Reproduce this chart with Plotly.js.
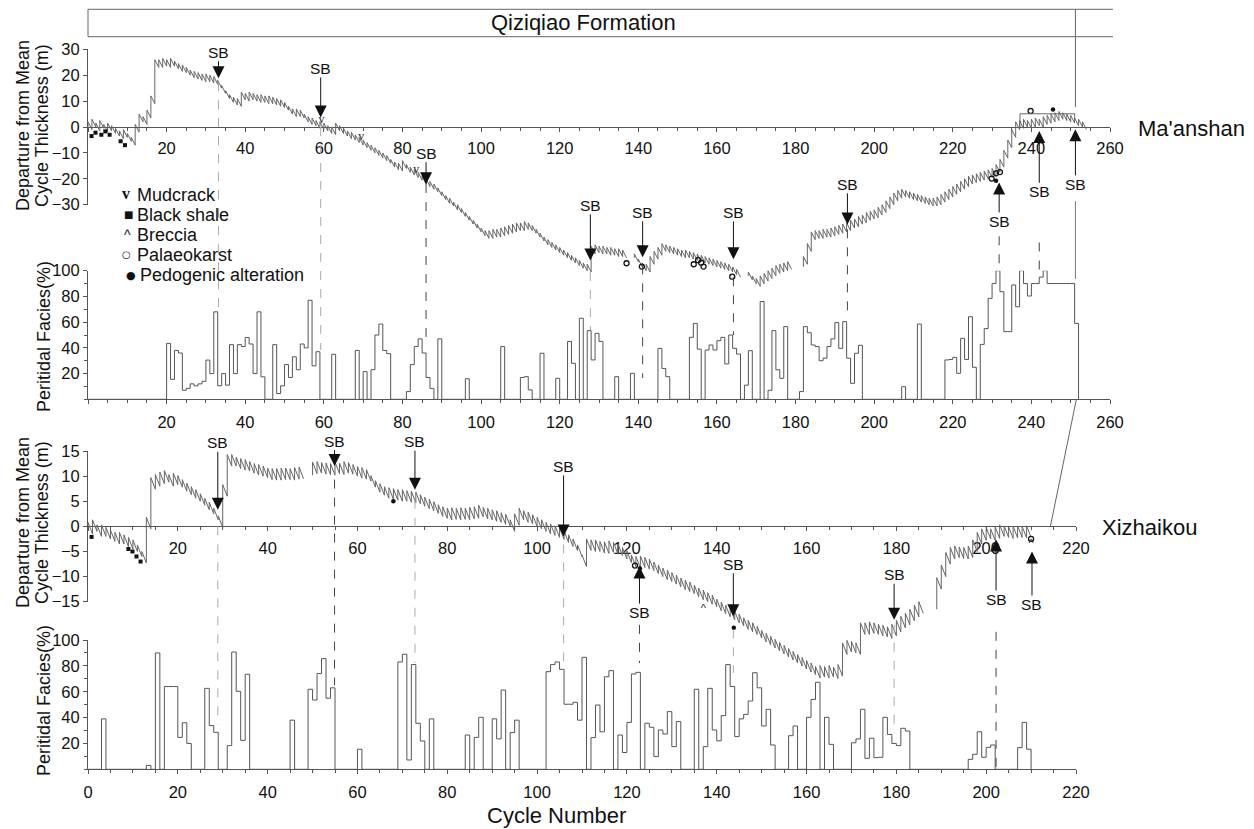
<!DOCTYPE html>
<html><head><meta charset="utf-8">
<script src="https://cdn.plot.ly/plotly-3.0.1.min.js"></script>
<style>html,body{margin:0;padding:0;background:#fff}#chart{width:1254px;height:829px}</style>
</head><body><div id="chart"></div>
<script>
// ================= DATA =================
// Ma'anshan: cumulative departure from mean cycle thickness (m), index = cycle number
const maMeanThickness = 3;
const maDeparture = [
 0,-1,0,-1.5,-0.5,-2,-1.5,-2.5,-3.5,-4.5,
 -4,-5.5,-7,-2,2,1,3.5,9,23,23,
 23.5,23,23.5,22.5,21.5,21,20,19,18.5,18,
 17.5,17.5,17,16.5,15,13,11,9.5,8.5,8,
 10.5,10,10.5,10,9.5,9.5,9,9,8.5,8,
 7.5,6.5,5,4,4,3.5,2,1,0.5,-0.5,
 -1,-1.5,-2.5,-3,-1.5,-2.5,-3.5,-4.5,-5,-6,
 -7,-8,-9,-10,-11,-12,-13,-14,-15.5,-16.5,
 -17,-16,-17.5,-18.5,-19.5,-20.5,-22,-23,-24,-25,
 -26.5,-28,-29.5,-30.5,-32,-33,-34.5,-36,-37.5,-39,
 -40.5,-42,-43,-43,-42.5,-42.5,-42,-41.5,-41,-40.5,
 -40,-40,-39.5,-40,-41,-42.5,-44,-45.5,-46.5,-47.5,
 -48.5,-49.5,-50.5,-51.5,-52.5,-53.5,-54.5,-55.5,-56,-49,
 -48.5,-49,-49,-49.5,-49.5,-50,-50,-50.5,null,-50.5,
 -52,-54,-55.5,-56,-53,-51,-49.5,-48,-48.5,-49,
 -49.5,-50,-50.5,-50.5,-51,-51.5,-52,-52.5,-53,-53.5,
 -54,-54.5,-55,-55.5,-56,-57,-58,null,-57.5,-59,
 -60.5,-61.5,-60.5,-59.5,-58.5,-57.5,-56.5,-56,-55.5,-55,
 null,null,-54,-53,-48,-43.5,-43,-43,-42.5,-42.5,
 -42,-41.5,-41,-40.5,-40,-39,-38.5,-37.5,-37,-36,
 -35.5,-35,-34,-33,-31.5,-30,-28.5,-27.5,-27,-27.5,
 -28,-28.5,-29,-29.5,-30,-30.5,-30.5,-30,-29,-28,
 -27,-26,-25,-24,-23,-22,-21.5,-21,-20.5,-20,
 -19.5,-19,-17.5,-15.5,-12,-8,-4,-1,-0.5,0,
 -0.5,0,0.5,0,1,1.5,2,2.5,3,2.5,
 2,1.5,0.5,0,-1
];
// Ma'anshan peritidal facies (%), index i = bar from cycle i to i+1
const maFacies = [
 0,0,0,0,0,0,0,0,0,0, 0,0,0,0,0,0,0,0,0,0,
 43.5,15.5,38,36,7,8.5,12,10.5,12,14,
 30.5,20,68,10.5,20,11,42.5,20,42.5,41,
 48,43,20,68,17.5,0,0,42.5,4.5,10.5,
 27,17,33,23,43,40,77,26,37,0,
 0,0,35,0,0,0,0,0,38,0,
 21.5,0,23,50,58.5,38,35.5,0,0,0,
 0,6,27,41,47,36,17,8.5,0,47,
 0,0,0,0,0,0,16,0,0,0,
 0,0,0,0,0,41,0,0,0,0,
 17,17.6,7.3,0,0,35.8,0,0,0,16.3,
 0,0,45,28,0,63,0,53.4,30.6,51.3,
 45,0,0,0,17.6,0,0,0,20.2,0,
 0,0,0,0,0,39.6,24,17.6,0,0,
 0,0,0,48.2,59,39,0,38.3,42.2,38.3,
 45.6,48.2,27.5,50,39.6,35.2,0,11,37.8,0,
 0,76,0,7,53.4,23,16.3,56.5,0,0,
 0,6,56.5,51.8,42.2,41,30,32,41,47,
 59.6,39.6,60.4,32,12.4,35.8,42,0,0,0,
 0,0,0,0,0,0,0,9.8,0,0,
 0,58.5,0,0,0,0,0,0,30.6,31,
 32.6,20.2,47.4,31,64.2,24.9,0,42.7,55,78.5,
 90,100,83.7,52.6,52.6,88.9,72,100,90,80.3,
 90,90,95,100,90,90,90,90,90,90,
 90,59
];
// Xizhaikou: cumulative departure from mean cycle thickness (m)
const xzMeanThickness = 2.3;
const xzDeparture = [
 0,-1.5,-1,-2,-2,-2.5,-3,-3.5,-3.5,-4,
 -4.5,-5,-6,-7.3,-0.5,7.4,8,8.5,8.8,8,
 8.3,7.8,7,6.3,5.6,5,4.2,3.3,2.5,1.3,
 -0.2,6,12,12,11.5,11.2,11,10.6,10.2,10,
 9.7,9.3,9.2,9.2,9.3,9.3,9.2,9.4,9.5,null,
 10.2,10.5,10.6,10.4,10.3,10.2,10.5,10.3,10.6,10.4,
 10,9.6,9.4,9,7.8,6.8,6.2,5.6,5.4,5.2,
 5,5,4.8,4.7,4.5,4,3.5,3.1,2.6,2,
 1.6,1.3,1.4,1.3,1.4,1.3,1.5,1.6,1.9,1.5,
 1.3,1,0.8,0.4,0.1,-1,0.2,1.3,0.8,0.5,
 0,-0.5,-1,-1.5,-1.8,-2.2,-2.6,-3.2,-4,-4.8,
 -6,-8,-4.8,-5,-5,-5.3,-5.4,-5.2,-5.5,-5.8,
 -6.5,-7.2,-8,-8.3,-8.2,-8.5,-8.8,-9.4,-10,-10.6,
 -11,-11.5,-12,-12.6,-13,-13.4,-14,-14.6,-15,-15.5,
 -16,-16.8,-17.4,-18,-18.6,-19.2,-19.8,-20.5,-21,-21.5,
 -22.2,-23,-23.6,-24.2,-24.8,-25.4,-26,-26.6,-27.2,-27.8,
 -28.4,-29,-29.5,-30.2,-30,-30.2,-30,-30.3,-29.8,-25.5,
 -25,-25.2,-25.5,-21.5,-21.5,-21.3,-21.5,-21.8,-22,-22.3,
 -21.8,-21,-20.2,-19.6,-18.8,-18,-17.3,null,null,-16.5,
 -12.5,-10,-7.5,-6.5,-6.2,-6.4,-6.5,-6.2,-5,-3.5,
 -2.8,-2.5,-2.8,-2.4,-2,-2.2,-2.4,-2.3,-2.2,-2.3,
 -2.2
];
// Xizhaikou peritidal facies (%)
const xzFacies = [
 0,0,0,39,0,0,0,0,0,0,
 0,0,0,3,0,90,0,64,64,64,
 24.7,36,20,0,0,0,62.6,33.8,28.6,0,
 0,18.3,90.7,60.3,22.4,73.5,0,0,0,0,
 0,0,0,0,0,38,0,0,0,61.9,
 53.6,74,85.6,55,63,0,0,0,0,0,
 15.5,0,0,0,0,0,0,0,0,83,
 89,7.2,81,35.6,21.9,0,39,0,0,0,
 0,0,0,0,26.5,0,24.7,40.2,0,0,
 39,23.5,61.3,0,28.4,38,0,0,0,0,
 0,0,75.5,81,83,77.3,50.3,50.3,51.8,38,
 86.6,0,24.5,49.7,29,71.6,76.3,0,26.5,13,
 36.3,73.7,75,0,35.6,32.5,9.8,30.4,27.3,44.6,
 17.5,36.9,0,0,0,61.9,0,17.5,62.6,30.4,
 22,41.5,81,64,25.3,39,42.5,52.8,74.7,63,
 33.5,46.4,18.8,0,0,0,26,33.5,0,0,
 40.2,54,67.3,0,40.2,19.3,0,0,0,0,
 20.5,23.5,46.4,8.5,24,9,9.3,40.2,27,20,
 18.3,31.7,29.6,0,0,0,0,0,0,0,
 0,0,0,0,0,0,7.7,11.6,29,9.3,
 17,18.8,0,0,0,0,0,16.8,36.3,15.5
];
// Sequence boundaries (SB)
const maSbCycle = [33.2, 59.2, 86, 127.8, 141.1, 164.2, 193.2, 231.8, 242, 251.2];
const maSbTip   = [18.8, 3.7, -22.1, -51.5, -50.3, -51.1, -37.6, -21.4, -1.5, -0.9];
const maSbLineTop = [17.3, 0, -22, -56, -53.4, -58, -39.5, -42.2, -44.6, -28.6];
const maSbLineBottom = [67.9, 38.4, 42.2, 53.9, 16.6, 50, 63.2, 100, 96.7, 93.5];
const xzSbCycle = [28.9, 54.9, 72.8, 105.9, 122.8, 143.7, 179.5, 202.2, 210.2];
const xzSbTip   = [3.3, 12, 7.3, -2, -8, -17.9, -18.6, -2.6, -5];
const xzSbLineTop = [0, 9.3, 5.3, -3.6, -19.6, -20.5, -19.6, -21, null];
const xzSbLineBottom = [34.3, 65, 82.2, 79.4, 82.2, 74.5, 28, 0, null];
// Lithologic markers
const maShaleX = [0.9, 1.9, 3.4, 4.4, 5.5, 8.3, 9.4];
const maShaleY = [-3.5, -2.2, -3, -1.7, -3, -5.5, -7];
const maMudX = [59.4, 69.5, 83.5];
const maMudY = [2.7, -3.9, -16.6];
const maKarstX = [137, 140.9, 154.1, 155.2, 156, 156.6, 163.9, 229.9, 231, 232, 239.8];
const maKarstY = [-52.6, -53.9, -53, -51.4, -52.4, -53.9, -57.8, -19.9, -17.9, -17.4, 6.2];
const maPedoX = [231, 245.5];
const maPedoY = [-20.8, 6.8];
const xzShaleX = [0.8, 9, 9.9, 10.8, 11.7];
const xzShaleY = [-2.1, -4.5, -5, -6, -7];
const xzPedoX = [68, 122.9, 143.8];
const xzPedoY = [5, -8.4, -20.2];
const xzKarstX = [121.8, 210];
const xzKarstY = [-7.8, -2.5];
const xzBrecX = [137, 210];
const xzBrecY = [-16.5, -3.6];
// Tick labels
const maTicks = [0,20,40,60,80,100,120,140,160,180,200,220,240,260];
const xzTicks = [0,20,40,60,80,100,120,140,160,180,200,220];
const legendLabels = ['Mudcrack','Black shale','Breccia','Palaeokarst','Pedogenic alteration'];

// ================= LAYOUT HELPERS =================
const W = 1254, H = 829;
const PX = p => p / W;
const PY = p => 1 - p / H;
const FONT = 'Liberation Sans, Arial, sans-serif';
const AX = '#555';

const maG = {x0: 88, x1: 1110, yTop: 49.3, yBot: 204.7, ext: 330, fTop: 270.7, fBot: 399.3};
const xzG = {x0: 88, x1: 1076, yTop: 451, yBot: 601.7, ext: 720, fTop: 640, fBot: 769.3};
const maScale = (maG.yBot - maG.yTop) / 60;
const xzScale = (xzG.yBot - xzG.yTop) / 30;
const maLow = 30 - (maG.ext - maG.yTop) / maScale;
const xzLow = 15 - (xzG.ext - xzG.yTop) / xzScale;

const axBase = {showgrid:false, zeroline:false, showline:true, linecolor:AX, linewidth:1,
  ticks:'outside', tickcolor:AX, tickwidth:1, ticklen:4,
  tickfont:{family:FONT, size:16.5, color:'#111'}, fixedrange:true};
const minorX = {tickmode:'linear', tick0:0, dtick:5, ticklen:3, tickcolor:AX, ticks:'outside'};
const minorY = {tickmode:'linear', tick0:0, dtick:10, ticklen:3, tickcolor:AX, ticks:'outside'};

function fischerPath(D, m){
  const xs=[], ys=[];
  for(let i=0;i<D.length;i++){
    if(D[i]===null){ xs.push(null); ys.push(null); continue; }
    if(i>0 && D[i-1]!==null){ xs.push(i-1); ys.push(D[i]+m); }
    xs.push(i); ys.push(D[i]);
  }
  return {xs, ys};
}
function stepPath(vals){
  const xs=[], ys=[];
  vals.forEach((v,i)=>{ xs.push(i); ys.push(v); });
  xs.push(vals.length); ys.push(vals[vals.length-1]);
  xs.push(vals.length); ys.push(0);
  return {xs, ys};
}
function toPaper(ax, v){
  const [d0,d1]=ax.domain, [r0,r1]=ax.range;
  return d0 + (v-r0)/(r1-r0)*(d1-d0);
}

const layout = {
  width: W, height: H, margin:{l:0,r:0,t:0,b:0},
  paper_bgcolor:'#fff', plot_bgcolor:'rgba(0,0,0,0)', showlegend:false, hovermode:false,
  font:{family:FONT, color:'#111'},
  xaxis: Object.assign({}, axBase, {domain:[PX(maG.x0),PX(maG.x1)], range:[0,260], anchor:'free',
    position:(PY(maG.yBot)+PY(maG.yTop))/2, tickmode:'array', tickvals:maTicks,
    ticktext:maTicks.map(v=>v===0?'':String(v)), ticklabelstandoff:2, minor:minorX}),
  yaxis: Object.assign({}, axBase, {domain:[PY(maG.yBot),PY(maG.yTop)], range:[-30,30], anchor:'x',
    tickmode:'array', tickvals:[-30,-20,-10,0,10,20,30]}),
  xaxis2: Object.assign({}, axBase, {domain:[PX(maG.x0),PX(maG.x1)], range:[0,260], anchor:'y2',
    tickmode:'array', tickvals:maTicks, ticktext:maTicks.map(v=>v===0?'':String(v)), ticklabelstandoff:4, minor:minorX}),
  yaxis2: Object.assign({}, axBase, {domain:[PY(maG.fBot),PY(maG.fTop)], range:[0,100], anchor:'x2',
    tickmode:'array', tickvals:[20,40,60,80,100], minor:minorY}),
  xaxis3: Object.assign({}, axBase, {domain:[PX(xzG.x0),PX(xzG.x1)], range:[0,220], anchor:'free',
    position:(PY(xzG.yBot)+PY(xzG.yTop))/2, tickmode:'array', tickvals:xzTicks,
    ticktext:xzTicks.map(v=>v===0?'':String(v)), ticklabelstandoff:3, minor:minorX}),
  yaxis3: Object.assign({}, axBase, {domain:[PY(xzG.yBot),PY(xzG.yTop)], range:[-15,15], anchor:'x3',
    tickmode:'array', tickvals:[-15,-10,-5,0,5,10,15]}),
  xaxis4: Object.assign({}, axBase, {domain:[PX(xzG.x0),PX(xzG.x1)], range:[0,220], anchor:'y4',
    tickmode:'array', tickvals:xzTicks, ticktext:xzTicks.map(String), ticklabelstandoff:4, minor:minorX}),
  yaxis4: Object.assign({}, axBase, {domain:[PY(xzG.fBot),PY(xzG.fTop)], range:[0,100], anchor:'x4',
    tickmode:'array', tickvals:[20,40,60,80,100], minor:minorY}),
  xaxis5: {domain:[PX(maG.x0),PX(maG.x1)], range:[0,260], anchor:'y5', visible:false, fixedrange:true},
  yaxis5: {domain:[PY(maG.ext),PY(maG.yTop)], range:[maLow,30], anchor:'x5', visible:false, fixedrange:true},
  xaxis6: {domain:[PX(xzG.x0),PX(xzG.x1)], range:[0,220], anchor:'y6', visible:false, fixedrange:true},
  yaxis6: {domain:[PY(xzG.ext),PY(xzG.yTop)], range:[xzLow,15], anchor:'x6', visible:false, fixedrange:true},
  shapes: [], annotations: []
};

// ================= TRACES =================
const traces = [];
traces.push({x:[0],y:[0],mode:'markers',marker:{opacity:0},xaxis:'x',yaxis:'y',hoverinfo:'skip'});
traces.push({x:[0],y:[0],mode:'markers',marker:{opacity:0},xaxis:'x3',yaxis:'y3',hoverinfo:'skip'});

const maStep = stepPath(maFacies), xzStep = stepPath(xzFacies);
traces.push({x:maStep.xs, y:maStep.ys, mode:'lines', line:{shape:'hv', color:'#555', width:1}, xaxis:'x2', yaxis:'y2', hoverinfo:'skip'});
traces.push({x:xzStep.xs, y:xzStep.ys, mode:'lines', line:{shape:'hv', color:'#555', width:1}, xaxis:'x4', yaxis:'y4', hoverinfo:'skip'});

const maF = fischerPath(maDeparture, maMeanThickness), xzF = fischerPath(xzDeparture, xzMeanThickness);
traces.push({x:maF.xs, y:maF.ys, mode:'lines', line:{color:'#666', width:1}, xaxis:'x5', yaxis:'y5', hoverinfo:'skip', connectgaps:false});
traces.push({x:xzF.xs, y:xzF.ys, mode:'lines', line:{color:'#666', width:1}, xaxis:'x6', yaxis:'y6', hoverinfo:'skip', connectgaps:false});

function mk(x,y,xa,ya,marker){ return {x, y, mode:'markers', marker, xaxis:xa, yaxis:ya, hoverinfo:'skip', cliponaxis:false}; }
const sq = {symbol:'square', size:4, color:'#111'};
const dot = {symbol:'circle', size:4.5, color:'#111'};
const ring = {symbol:'circle-open', size:5, color:'#111', line:{width:1.3, color:'#111'}};
traces.push(mk(maShaleX, maShaleY, 'x5','y5', sq));
traces.push(mk(maKarstX, maKarstY, 'x5','y5', ring));
traces.push(mk(maPedoX, maPedoY, 'x5','y5', dot));
traces.push({x:maMudX, y:maMudY, mode:'text', text:maMudX.map(()=> 'v'), textfont:{family:'Liberation Serif, serif', size:12, color:'#222'}, xaxis:'x5', yaxis:'y5', hoverinfo:'skip', cliponaxis:false});
traces.push(mk(xzShaleX, xzShaleY, 'x6','y6', sq));
traces.push(mk(xzPedoX, xzPedoY, 'x6','y6', dot));
traces.push(mk(xzKarstX, xzKarstY, 'x6','y6', ring));
traces.push({x:xzBrecX, y:xzBrecY, mode:'text', text:xzBrecX.map(()=> '^'), textfont:{family:FONT, size:11, color:'#222'}, xaxis:'x6', yaxis:'y6', hoverinfo:'skip', cliponaxis:false});

// ================= SB ARROWS & DASHED LINES =================
const maLabelDy = [-26,-49,-31,-55,-45,-47,-40,39,61,55];
const xzLabelDy = [-67,-25,-48,-70,46,-52,-45,60,53];
const maDashDark = [false,false,true,false,true,true,true,true,true,'solid'];
const xzDashDark = [false,true,false,false,true,false,false,true,null];

function addSB(cyc, tip, dy, xr, yr){
  cyc.forEach((c,i)=>{
    layout.annotations.push({x:c, y:tip[i], xref:xr, yref:yr, text:'SB', showarrow:true, ax:0, ay:dy[i],
      arrowhead:2, arrowsize:2.4, arrowwidth:1, arrowcolor:'#111', standoff:0, borderpad:0,
      font:{family:FONT, size:15.5, color:'#111'}});
  });
}
addSB(maSbCycle, maSbTip, maLabelDy, 'x5', 'y5');
addSB(xzSbCycle, xzSbTip, xzLabelDy, 'x6', 'y6');

function addDash(cyc, top, bot, styles, fAx, dAx){
  cyc.forEach((c,i)=>{
    if(top[i]===null) return;
    const st = styles[i];
    layout.shapes.push({type:'line', xref:dAx.xname, yref:'paper', x0:c, x1:c,
      y0: toPaper(dAx.y, top[i]), y1: toPaper(fAx, bot[i]),
      line:{color: st==='solid' ? '#777' : (st ? '#444' : '#aaa'), width:1, dash: st==='solid' ? 'solid' : 'dash'}});
  });
}
addDash(maSbCycle, maSbLineTop, maSbLineBottom, maDashDark, layout.yaxis2, {xname:'x5', y:layout.yaxis5});
addDash(xzSbCycle, xzSbLineTop, xzSbLineBottom, xzDashDark, layout.yaxis4, {xname:'x6', y:layout.yaxis6});

// ================= DECORATION =================
const L = (x0,y0,x1,y1,c,w)=>({type:'line', xref:'paper', yref:'paper', x0:PX(x0), y0:PY(y0), x1:PX(x1), y1:PY(y1), line:{color:c||'#666', width:w||1}});
layout.shapes.push(L(88,9.3,1113,9.3,'#666'), L(88,36.7,1113,36.7,'#666'), L(88,9.3,88,36.7,'#666'));
const bx = maG.x0 + 251.2*(maG.x1-maG.x0)/260;
layout.shapes.push(L(bx,9.3,bx,107,'#666'));
layout.shapes.push({type:'path', xref:'x5', yref:'y5', path:'M237.1,0 L237.1,5.1 L251,5.1 L251,3.5', line:{color:'#666', width:1}});
const bx2 = xzG.x0 + 214.3*(xzG.x1-xzG.x0)/220;
layout.shapes.push(L(bx+0.8,400,bx2,(xzG.yTop+xzG.yBot)/2,'#666'));

const ann = (o)=>layout.annotations.push(Object.assign({xref:'paper', yref:'paper', showarrow:false, xanchor:'center', yanchor:'middle'}, o));
ann({x:PX(583), y:PY(23), text:'Qiziqiao Formation', font:{family:FONT, size:22, color:'#111'}});
ann({x:PX(1191), y:PY(128), text:"Ma'anshan", font:{family:FONT, size:22, color:'#111'}});
ann({x:PX(1149), y:PY(527), text:'Xizhaikou', font:{family:FONT, size:22, color:'#111'}});
ann({x:PX(556), y:PY(815), text:'Cycle Number', font:{family:FONT, size:22, color:'#111'}});
const yt = {family:FONT, size:18, color:'#111'};
ann({x:PX(23), y:PY(126), text:'Departure from Mean', textangle:-90, font:yt});
ann({x:PX(42), y:PY(126), text:'Cycle Thickness (m)', textangle:-90, font:yt});
ann({x:PX(44), y:PY(337), text:'Peritidal Facies(%)', textangle:-90, font:yt});
ann({x:PX(23), y:PY(523), text:'Departure from Mean', textangle:-90, font:yt});
ann({x:PX(42), y:PY(523), text:'Cycle Thickness (m)', textangle:-90, font:yt});
ann({x:PX(44), y:PY(701), text:'Peritidal Facies(%)', textangle:-90, font:yt});

// legend
const legY = [195, 215, 235, 255, 275];
const legSym = ['v','■','^','○','●'];
const legSymFont = [
  {family:'Liberation Serif, serif', size:16, color:'#111', weight:'bold'},
  {family:'DejaVu Sans', size:10, color:'#111'},
  {family:FONT, size:14, color:'#111'},
  {family:'DejaVu Sans', size:10, color:'#111'},
  {family:'DejaVu Sans', size:11, color:'#111'}];
const legSymX = [126, 128, 127, 126, 131];
legendLabels.forEach((t,i)=>{
  ann({x:PX(legSymX[i]), y:PY(legY[i] - (i===0?2:0)), text:legSym[i], font:legSymFont[i]});
  ann({x:PX(i===4?138:135), y:PY(legY[i]), xanchor:'left', text:t, font:{family:FONT, size:18, color:'#111'}});
});

Plotly.newPlot('chart', traces, layout, {staticPlot:true, displayModeBar:false});
</script>
</body></html>
